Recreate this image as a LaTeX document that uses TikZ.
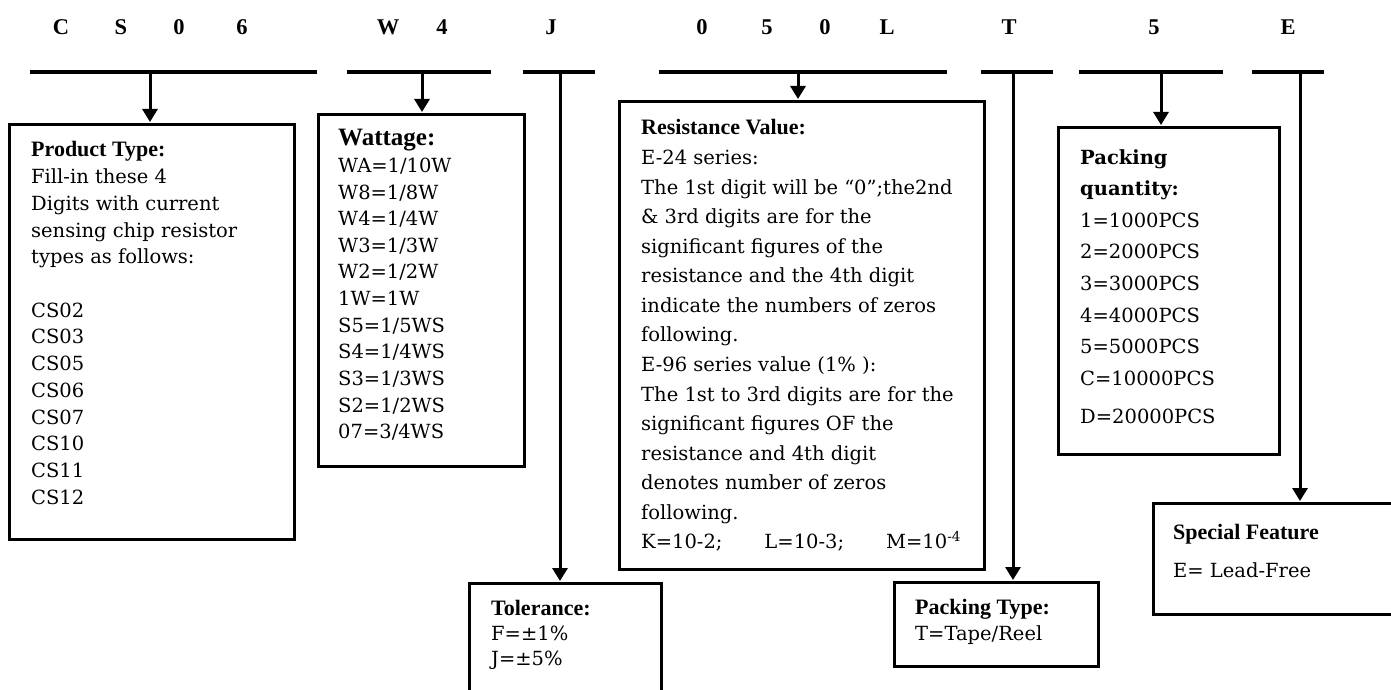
\documentclass[tikz,border=0pt]{standalone}
\usepackage{fontspec}
\setmainfont{DejaVu Serif}
\newfontfamily\hdfont{Liberation Serif}
\usetikzlibrary{arrows.meta}
\newcommand\myl[1]{\hbox{#1}}
\newcommand\hd{\hdfont\bfseries\fontsize{22pt}{26pt}\selectfont}
\begin{document}
\begin{tikzpicture}[x=1pt,y=-1pt,
  bar/.style={fill=black,draw=none,inner sep=0pt,minimum height=4pt},
  box/.style={draw=black,line width=3.3pt,inner sep=0pt,anchor=north west},
  arr/.style={line width=3pt,-{Triangle[width=15pt,length=13pt]},shorten >=1pt},
  txt/.style={anchor=base west,inner sep=0pt,font=\fontsize{19.5pt}{26.7pt}\selectfont},
  code/.style={anchor=base,inner sep=0pt,font=\hdfont\bfseries\fontsize{22.5pt}{27pt}\selectfont}]
\useasboundingbox (0,0) rectangle (1391,690);
\clip (0,0) rectangle (1391,690);
% code letters
\node[code] (l1) at (61,35) {C};
\node[code] (l2) at (121,35) {S};
\node[code] (l3) at (179,35) {0};
\node[code] (l4) at (242,35) {6};
\node[code] (l5) at (388,35) {W};
\node[code] (l6) at (442,35) {4};
\node[code] (l7) at (551,35) {J};
\node[code] (l8) at (702,35) {0};
\node[code] (l9) at (767,35) {5};
\node[code] (l10) at (825,35) {0};
\node[code] (l11) at (887,35) {L};
\node[code] (l12) at (1009,35) {T};
\node[code] (l13) at (1154,35) {5};
\node[code] (l14) at (1288,35) {E};
% bars
\node[bar,minimum width=287pt] (bar1) at (173.5,72) {};
\node[bar,minimum width=144pt] (bar2) at (419,72) {};
\node[bar,minimum width=72pt] (bar3) at (559,72) {};
\node[bar,minimum width=288pt] (bar4) at (803,72) {};
\node[bar,minimum width=72pt] (bar5) at (1017,72) {};
\node[bar,minimum width=144pt] (bar6) at (1151,72) {};
\node[bar,minimum width=72pt] (bar7) at (1288,72) {};
\coordinate (a1) at (150,72);
\coordinate (a2) at (422,72);
\coordinate (a3) at (560,72);
\coordinate (a4) at (798,72);
\coordinate (a5) at (1013,72);
\coordinate (a6) at (1161,72);
\coordinate (a7) at (1300,72);
% boxes
\node[box,minimum width=285pt,minimum height=415pt] (box1) at (8,123) {};
\node[box,minimum width=206pt,minimum height=352pt] (box2) at (317,113) {};
\node[box,minimum width=192pt,minimum height=150pt] (box3) at (468,582) {};
\node[box,minimum width=365pt,minimum height=468pt] (box4) at (618,100) {};
\node[box,minimum width=204pt,minimum height=84pt] (box5) at (893,581) {};
\node[box,minimum width=221pt,minimum height=327pt] (box6) at (1057,126) {};
\node[box,minimum width=260pt,minimum height=111pt] (box7) at (1152,502) {};
% connectors
\draw[arr] (a1) -- (a1 |- box1.north);
\draw[arr] (a2) -- (a2 |- box2.north);
\draw[arr] (a3) -- (a3 |- box3.north);
\draw[arr] (a4) -- (a4 |- box4.north);
\draw[arr] (a5) -- (a5 |- box5.north);
\draw[arr] (a6) -- (a6 |- box6.north);
\draw[arr] (a7) -- (a7 |- box7.north);
% texts
\node[txt] (t1) at (31,157) {\vtop{\myl{\hd Product Type:}\myl{Fill-in these 4}\myl{Digits with current}\myl{sensing chip resistor}\myl{types as follows:}\myl{}\myl{CS02}\myl{CS03}\myl{CS05}\myl{CS06}\myl{CS07}\myl{CS10}\myl{CS11}\myl{CS12}}};
\node[txt] (t2) at (338,146) {\vtop{\baselineskip=26.6pt\myl{\hdfont\bfseries\fontsize{25pt}{27pt}\selectfont Wattage:}\myl{WA=1/10W}\myl{W8=1/8W}\myl{W4=1/4W}\myl{W3=1/3W}\myl{W2=1/2W}\myl{1W=1W}\myl{S5=1/5WS}\myl{S4=1/4WS}\myl{S3=1/3WS}\myl{S2=1/2WS}\myl{07=3/4WS}}};
\node[txt] (t3) at (491,615) {\vtop{\baselineskip=25pt\myl{\hd Tolerance:}\myl{F=±1\%}\myl{J=±5\%}}};
\node[txt] (t4) at (641,135) {\vtop{\baselineskip=29.57pt\myl{\hd Resistance Value:}\myl{E-24 series:}\myl{The 1st digit will be “0”;the2nd}\myl{\& 3rd digits are for the}\myl{significant figures of the}\myl{resistance and the 4th digit}\myl{indicate the numbers of zeros}\myl{following.}\myl{E-96 series value (1\% ):}\myl{The 1st to 3rd digits are for the}\myl{significant figures OF the}\myl{resistance and 4th digit}\myl{denotes number of zeros}\myl{following.}\myl{K=10-2;\hspace{42pt}L=10-3;\hspace{42pt}M=10\textsuperscript{-4}}}};
\node[txt] (t5) at (915,614) {\vtop{\baselineskip=26pt\myl{\hd Packing Type:}\myl{T=Tape/Reel}}};
\node[txt] (t6) at (1080,164) {\vtop{\baselineskip=31.6pt\myl{\bfseries Packing}\myl{\bfseries quantity:}\myl{1=1000PCS}\myl{2=2000PCS}\myl{3=3000PCS}\myl{4=4000PCS}\myl{5=5000PCS}\myl{C=10000PCS}\vskip7pt\myl{D=20000PCS}}};
\node[txt] (t7) at (1173,539) {\vtop{\baselineskip=38pt\myl{\hd Special Feature}\myl{E= Lead-Free}}};
\end{tikzpicture}
\end{document}
